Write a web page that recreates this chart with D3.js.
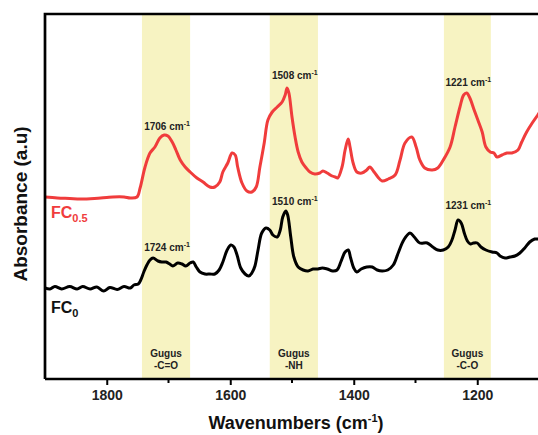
<!DOCTYPE html>
<html><head><meta charset="utf-8">
<script src="https://cdn.jsdelivr.net/npm/d3@7"></script>
<style>
html,body{margin:0;padding:0;background:#fff;}
svg{display:block;font-family:"Liberation Sans",Arial,sans-serif;}
</style></head>
<body><svg id="c" width="538" height="435"></svg>
<script>
// ---- data ----
const wnFC05 = [1900,1880,1860,1843,1820,1800,1790,1772,1762,1751,1746,1738,1730,1722,1714,1707,1701,1694,1688,1681,1673,1665,1654,1644,1633,1625,1617,1612,1604,1597,1592,1588,1581,1573,1565,1558,1552,1545,1539,1532,1524,1516,1511,1508,1505,1500,1495,1490,1484,1477,1471,1463,1455,1450,1443,1435,1430,1426,1419,1414,1409,1406,1401,1395,1387,1379,1374,1367,1361,1354,1344,1333,1325,1317,1306,1299,1293,1285,1273,1264,1255,1244,1236,1228,1222,1217,1212,1205,1199,1192,1186,1179,1173,1168,1160,1152,1144,1134,1128,1120,1111,1102,1090];
const absFC05 = [1.83,1.82,1.815,1.81,1.815,1.825,1.83,1.83,1.82,1.83,1.92,2.13,2.27,2.33,2.42,2.45,2.44,2.38,2.30,2.20,2.13,2.08,2.02,1.98,1.93,1.93,1.98,2.08,2.17,2.27,2.25,2.13,1.97,1.89,1.88,1.93,2.13,2.37,2.60,2.68,2.73,2.78,2.85,2.92,2.87,2.63,2.43,2.28,2.18,2.12,2.08,2.06,2.07,2.09,2.07,2.04,2.03,2.02,2.13,2.30,2.41,2.33,2.17,2.08,2.07,2.10,2.13,2.08,2.03,1.99,2.01,2.05,2.20,2.37,2.43,2.33,2.20,2.12,2.10,2.12,2.20,2.33,2.53,2.73,2.85,2.87,2.82,2.70,2.60,2.48,2.33,2.28,2.27,2.23,2.25,2.27,2.27,2.30,2.38,2.48,2.57,2.65,2.75];

const wnFC0 = [1900,1892,1884,1873,1860,1848,1839,1827,1816,1805,1795,1783,1772,1762,1756,1749,1745,1740,1735,1730,1725,1717,1711,1704,1698,1693,1685,1678,1672,1665,1660,1655,1649,1641,1633,1625,1618,1612,1605,1599,1594,1589,1583,1576,1570,1565,1560,1555,1549,1542,1536,1531,1524,1519,1515,1510,1507,1502,1497,1490,1482,1474,1466,1458,1451,1443,1434,1427,1421,1414,1409,1405,1400,1395,1388,1379,1370,1362,1354,1345,1336,1328,1319,1309,1302,1293,1281,1272,1264,1255,1247,1241,1236,1231,1226,1221,1216,1211,1206,1200,1194,1186,1176,1168,1163,1155,1147,1139,1131,1123,1115,1107,1102,1090];
const absFC0 = [0.92,0.91,0.935,0.91,0.935,0.91,0.935,0.91,0.93,0.89,0.925,0.905,0.935,0.92,0.95,0.96,1.00,1.08,1.15,1.20,1.22,1.19,1.18,1.18,1.16,1.14,1.17,1.16,1.14,1.17,1.18,1.13,1.08,1.06,1.06,1.06,1.10,1.18,1.30,1.35,1.33,1.25,1.12,1.06,1.04,1.07,1.14,1.30,1.47,1.52,1.50,1.45,1.43,1.50,1.63,1.69,1.65,1.43,1.23,1.13,1.10,1.09,1.11,1.11,1.12,1.11,1.09,1.10,1.18,1.28,1.30,1.22,1.12,1.08,1.11,1.13,1.13,1.10,1.09,1.10,1.15,1.27,1.40,1.47,1.43,1.37,1.37,1.33,1.30,1.30,1.33,1.40,1.50,1.60,1.57,1.47,1.39,1.36,1.37,1.37,1.33,1.30,1.28,1.27,1.24,1.22,1.23,1.24,1.27,1.32,1.38,1.41,1.41,1.42];

const bandStart = [1743,1536,1254];
const bandEnd   = [1665,1458,1178];
const bandGroup = ["-C=O","-NH","-C-O"];
const peakFC05 = ["1706","1508","1221"];
const peakFC0  = ["1724","1510","1231"];
const majorTicks = [1800,1600,1400,1200];
const minorTicks = [1700,1500,1300,1100];
const seriesNames = ["FC","FC"];
const seriesSubs = ["0.5","0"];

// ---- layout ----
const svg = d3.select("#c");
const L = 45, T = 14, B = 379;
const x = d3.scaleLinear().domain([1900,1000]).range([L, L + 900*0.6175]);
const y = d3.scaleLinear().domain([0, 3.65]).range([B+1, 15]);

svg.append("defs").append("clipPath").attr("id","pc")
  .append("rect").attr("x",L).attr("y",T).attr("width",600).attr("height",B-T);

// bands
const bandColor = "#f7f3c2";
svg.append("g").selectAll("rect").data(bandStart).join("rect")
  .attr("x",(d)=>x(d)).attr("y",T)
  .attr("width",(d,i)=>x(bandEnd[i])-x(d)).attr("height",B-T)
  .attr("fill",bandColor);

// curves
const line = d3.line().x(d=>x(d[0])).y(d=>y(d[1])).curve(d3.curveCatmullRom.alpha(0.5));
const g = svg.append("g").attr("clip-path","url(#pc)");
g.append("path").datum(wnFC05.map((w,i)=>[w,absFC05[i]]))
  .attr("d",line).attr("fill","none").attr("stroke","#f03c3c").attr("stroke-width",3).attr("stroke-linejoin","round");
g.append("path").datum(wnFC0.map((w,i)=>[w,absFC0[i]]))
  .attr("d",line).attr("fill","none").attr("stroke","#000").attr("stroke-width",3).attr("stroke-linejoin","round");

// frame (left + top)
svg.append("path").attr("d",`M${L},${B} V${T} H600`).attr("fill","none").attr("stroke","#000").attr("stroke-width",2.7);

// x axis
const ax = svg.append("g").attr("transform",`translate(0,${B})`)
  .call(d3.axisBottom(x).tickValues(majorTicks).tickSize(6).tickSizeOuter(0).tickFormat(d3.format("d")));
ax.select(".domain").attr("stroke-width",2.7).attr("d",`M${L},0H600`);
ax.selectAll(".tick line").attr("stroke-width",2);
ax.selectAll(".tick text").attr("font-size",14).attr("font-weight","bold").attr("font-family","Liberation Sans, Arial, sans-serif").attr("fill","#222").attr("dy","0.9em").attr("y",8);
svg.append("g").attr("transform",`translate(0,${B})`).selectAll("line").data(minorTicks).join("line")
  .attr("x1",d=>x(d)).attr("x2",d=>x(d)).attr("y1",0).attr("y2",4).attr("stroke","#000").attr("stroke-width",2);

// axis titles
const xt = svg.append("text").attr("x",296).attr("y",429).attr("text-anchor","middle")
  .attr("font-size",18).attr("font-weight","bold").attr("fill","#111");
xt.append("tspan").text("Wavenumbers (cm");
xt.append("tspan").text("-1").attr("font-size",11).attr("dy",-7);
xt.append("tspan").text(")").attr("dy",7);

svg.append("text").attr("transform","translate(27,204) rotate(-90)").attr("text-anchor","middle")
  .attr("font-size",19).attr("font-weight","bold").attr("fill","#111").text("Absorbance (a.u)");

// peak labels
function peakLabel(wnText, cx, by){
  const t = svg.append("text").attr("x",cx).attr("y",by).attr("text-anchor","middle")
    .attr("font-size",10).attr("font-weight","bold").attr("fill","#222");
  t.append("tspan").text(wnText+" cm");
  t.append("tspan").text("-1").attr("font-size",7).attr("dy",-4);
}
const bandCenter = bandStart.map((d,i)=>(x(d)+x(bandEnd[i]))/2);
const topBase = [130,79,86], botBase = [251,205,209];
peakFC05.forEach((p,i)=>peakLabel(p, bandCenter[i]+1, topBase[i]));
peakFC0.forEach((p,i)=>peakLabel(p, bandCenter[i]+1, botBase[i]));

// group labels
bandGroup.forEach((gname,i)=>{
  const cx = bandCenter[i];
  svg.append("text").attr("x",cx).attr("y",357).attr("text-anchor","middle")
    .attr("font-size",10).attr("font-weight","bold").attr("fill","#222").text("Gugus");
  svg.append("text").attr("x",cx).attr("y",369).attr("text-anchor","middle")
    .attr("font-size",10).attr("font-weight","bold").attr("fill","#222").text(gname);
});

// series labels
function seriesLabel(i, by, color){
  const t = svg.append("text").attr("x",51).attr("y",by).attr("font-size",16).attr("font-weight","bold").attr("fill",color);
  t.append("tspan").text(seriesNames[i]);
  t.append("tspan").text(seriesSubs[i]).attr("font-size",11).attr("dy",4);
}
seriesLabel(0, 218, "#f03c3c");
seriesLabel(1, 313, "#111");
</script></body></html>
